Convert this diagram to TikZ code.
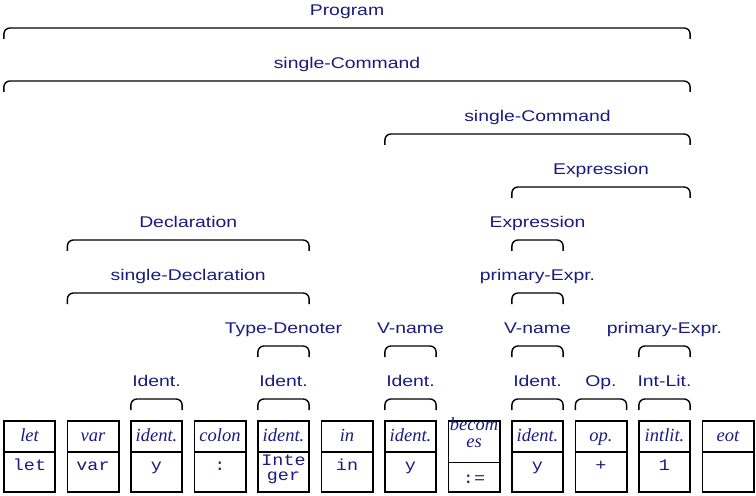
\documentclass[tikz,border=0pt]{standalone}
\usepackage{fontspec}
\setmainfont{Liberation Serif}
\setsansfont{Liberation Sans}
\setmonofont{Liberation Mono}
\usepackage{graphicx}
\definecolor{ink}{RGB}{26,26,128}
\newcommand\sx[1]{\scalebox{1.25}[1]{#1}}
\newcommand\mx[1]{\scalebox{1.15}[1]{#1}}
\newcommand\brc[5]{%
  \pgfmathsetmacro\ybot{#4+11}%
  \pgfmathsetmacro\ylab{#4-12.5}%
  \draw[bracestyle] (#2.west |- 0,\ybot) -- (#2.west |- 0,#4) -- (#3.east |- 0,#4) -- (#3.east |- 0,\ybot);
  \path (#2.west |- 0,\ylab) -- (#3.east |- 0,\ylab) node[lab,midway] (#1) {\sx{#5}};%
}
\begin{document}
\begin{tikzpicture}[x=1bp,y=-1bp,
  box/.style={draw=black,line width=1.8bp,minimum width=51.2bp,inner sep=0pt,outer sep=0pt},
  tbox/.style={box,minimum height=31bp},
  bbox/.style={box,minimum height=40bp},
  lab/.style={text=ink,font=\fontsize{15.5bp}{18bp}\selectfont\sffamily,inner sep=0pt,anchor=base},
  kind/.style={text=ink,font=\fontsize{18.5bp}{17bp}\selectfont\itshape,inner sep=0pt,anchor=base},
  spell/.style={text=ink,font=\fontsize{16bp}{14bp}\selectfont\ttfamily,inner sep=0pt,anchor=base},
  bracestyle/.style={draw=black,line width=1.4bp,rounded corners=6bp}]
\useasboundingbox (0,0) rectangle (756,496);
% token boxes
\foreach \i/\x in {0/29.5,1/93,2/156.5,3/220,4/283.5,5/347,6/410.5,8/537.5,9/601,10/664.5,11/728}{
  \node[tbox] (t\i) at (\x,436.5) {};
  \node[bbox] (b\i) at (\x,472) {};
}
\node[box,minimum height=41.5bp] (t7) at (474,441.75) {};
\node[box,minimum height=29.5bp] (b7) at (474,477.25) {};
% token kinds
\node[kind] (k0) at (29.5,441) {let};
\node[kind] (k1) at (93,441) {var};
\node[kind] (k2) at (156.5,441) {ident.};
\node[kind] (k3) at (220,441) {colon};
\node[kind] (k4) at (283.5,441) {ident.};
\node[kind] (k5) at (347,441) {in};
\node[kind] (k6) at (410.5,441) {ident.};
\node[kind] (k7a) at (474,430) {becom};
\node[kind] (k7b) at (474,447) {es};
\node[kind] (k8) at (537.5,441) {ident.};
\node[kind] (k9) at (601,441) {op.};
\node[kind] (k10) at (664.5,441) {intlit.};
\node[kind] (k11) at (728,441) {eot};
% token spellings
\node[spell] (s0) at (29.5,470) {\mx{let}};
\node[spell] (s1) at (93,470) {\mx{var}};
\node[spell] (s2) at (156.5,470) {\mx{y}};
\node[spell] (s3) at (220,470) {\mx{:}};
\node[spell] (s4a) at (283.5,465) {\mx{Inte}};
\node[spell] (s4b) at (283.5,480) {\mx{ger}};
\node[spell] (s5) at (347,470) {\mx{in}};
\node[spell] (s6) at (410.5,470) {\mx{y}};
\node[spell] (s7) at (474,483) {\mx{:=}};
\node[spell] (s8) at (537.5,470) {\mx{y}};
\node[spell] (s9) at (601,470) {\mx{+}};
\node[spell] (s10) at (664.5,470) {\mx{1}};
% level 1
\brc{id2}{t2}{t2}{399}{Ident.}
\brc{id4}{t4}{t4}{399}{Ident.}
\brc{id6}{t6}{t6}{399}{Ident.}
\brc{id8}{t8}{t8}{399}{Ident.}
\brc{op9}{t9}{t9}{399}{Op.}
\brc{il10}{t10}{t10}{399}{Int-Lit.}
% level 2
\brc{td}{t4}{t4}{346}{Type-Denoter}
\brc{vn6}{t6}{t6}{346}{V-name}
\brc{vn8}{t8}{t8}{346}{V-name}
\brc{pe10}{t10}{t10}{346}{primary-Expr.}
% level 3
\brc{sd}{t1}{t4}{293}{single-Declaration}
\brc{pe8}{t8}{t8}{293}{primary-Expr.}
% level 4
\brc{dc}{t1}{t4}{240}{Declaration}
\brc{ex8}{t8}{t8}{240}{Expression}
% level 5
\brc{ex}{t8}{t10}{187}{Expression}
% level 6
\brc{sc2}{t6}{t10}{134}{single-Command}
% level 7
\brc{sc1}{t0}{t10}{81}{single-Command}
% level 8
\brc{pg}{t0}{t10}{28}{Program}
\end{tikzpicture}
\end{document}
